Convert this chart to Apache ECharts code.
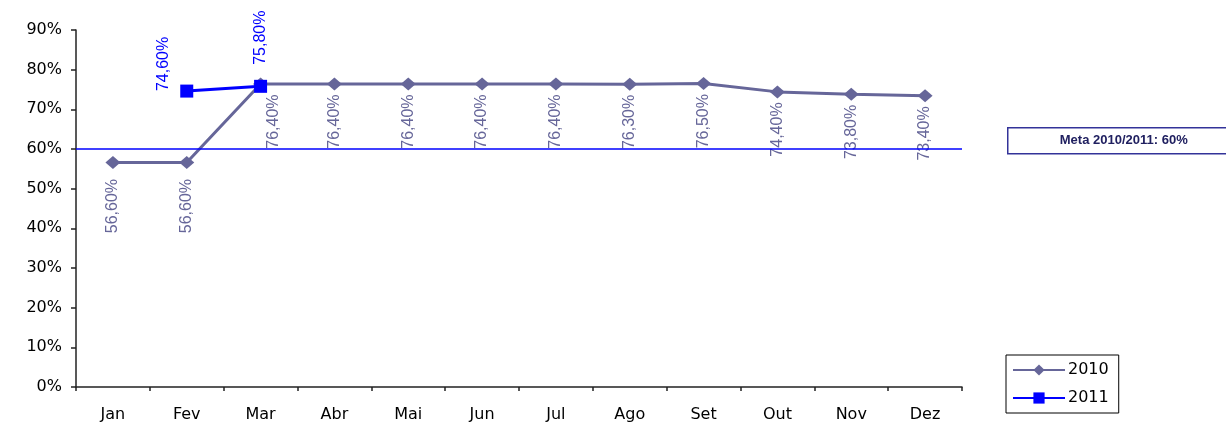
<!DOCTYPE html>
<html>
<head>
<meta charset="utf-8">
<script src="https://cdn.jsdelivr.net/npm/echarts@6/dist/echarts.min.js"></script>
<style>
  html, body { margin: 0; padding: 0; background: #fff; }
  #chart { width: 1226px; height: 424px; }
</style>
</head>
<body>
<div id="chart"></div>
<script>
  var months = ["Jan", "Fev", "Mar", "Abr", "Mai", "Jun", "Jul", "Ago", "Set", "Out", "Nov", "Dez"];
  var values2010 = [56.6, 56.6, 76.4, 76.4, 76.4, 76.4, 76.4, 76.3, 76.5, 74.4, 73.8, 73.4];
  var values2011 = [null, 74.6, 75.8];
  var meta = 60;
  var yTicks = [0, 10, 20, 30, 40, 50, 60, 70, 80, 90];

  function pct(v) {
    return v.toFixed(2).replace(".", ",") + "%";
  }

  var font = "Liberation Sans, Arial, sans-serif";
  var axisFont = "DejaVu Sans, Verdana, sans-serif";

  var chart = echarts.init(document.getElementById("chart"));

  // 2010: labels below the points (Jan/Fev a bit lower, Mar pushed right)
  var data2010 = values2010.map(function (v, i) {
    var item = { value: v };
    if (i < 2) item.label = { distance: 10 };
    if (i === 2) item.label = { offset: [0, 13] };
    return item;
  });

  // 2011: Fev label sits left of its point
  var data2011 = values2011.map(function (v, i) {
    if (v === null) return null;
    var item = { value: v };
    if (i === 1) item.label = { position: "left", distance: 17, align: "left" };
    return item;
  });

  chart.setOption({
    animation: false,
    grid: { left: 76, right: 264, top: 30, bottom: 37 },
    xAxis: {
      type: "category",
      data: months,
      boundaryGap: true,
      axisLine: { lineStyle: { color: "#222", width: 1.5 } },
      axisTick: { show: true, length: 4, lineStyle: { color: "#222", width: 1.5 } },
      axisLabel: { color: "#000", fontSize: 16, fontFamily: axisFont, margin: 20 },
      splitLine: { show: false }
    },
    yAxis: {
      type: "value",
      min: yTicks[0],
      max: yTicks[yTicks.length - 1],
      interval: 10,
      axisLine: { show: true, lineStyle: { color: "#222", width: 1.5 } },
      axisTick: { show: true, length: 5, lineStyle: { color: "#222", width: 1.5 } },
      axisLabel: {
        color: "#000", fontSize: 16, fontFamily: axisFont, margin: 14,
        formatter: function (v) { return v + "%"; }
      },
      splitLine: { show: false }
    },
    legend: {
      orient: "vertical",
      left: 1006,
      top: 355,
      padding: [7, 10, 7, 6],
      itemGap: 12,
      itemWidth: 52,
      itemHeight: 14,
      borderColor: "#000",
      borderWidth: 1,
      textStyle: { color: "#000", fontSize: 16, fontFamily: axisFont, padding: [0, 0, 0, -2] },
      data: ["2010", "2011"]
    },
    graphic: [{
      type: "group",
      left: 1007,
      top: 127,
      children: [{
        type: "rect",
        shape: { x: 0, y: 0, width: 230, height: 26 },
        style: { fill: "#fff", stroke: "#333399", lineWidth: 1.5 }
      }, {
        type: "text",
        x: 116,
        y: 13,
        style: {
          text: "Meta 2010/2011: 60%",
          fill: "#202060",
          font: "bold 13px " + font,
          textAlign: "center",
          textVerticalAlign: "middle"
        }
      }]
    }],
    series: [{
      name: "2010",
      type: "line",
      data: data2010,
      symbol: "diamond",
      symbolSize: [15, 13],
      lineStyle: { color: "#666699", width: 3 },
      itemStyle: { color: "#666699" },
      label: {
        show: true,
        position: "bottom",
        distance: 4,
        rotate: 90,
        align: "right",
        verticalAlign: "middle",
        color: "#666699",
        fontSize: 16,
        fontFamily: font,
        formatter: function (p) { return pct(p.value); }
      },
      z: 2
    }, {
      name: "2011",
      type: "line",
      data: data2011,
      symbol: "rect",
      symbolSize: 13,
      lineStyle: { color: "#0000FF", width: 3 },
      itemStyle: { color: "#0000FF" },
      label: {
        show: true,
        position: "top",
        distance: 15,
        rotate: 90,
        align: "left",
        verticalAlign: "middle",
        color: "#0000FF",
        fontSize: 16,
        fontFamily: font,
        formatter: function (p) { return pct(p.value); }
      },
      // meta line at 60%
      markLine: {
        silent: true,
        symbol: "none",
        label: { show: false },
        emphasis: { disabled: true },
        lineStyle: { color: "#0000FF", width: 1.5, type: "solid", opacity: 1 },
        data: [{ yAxis: meta }]
      },
      z: 3
    }]
  });
</script>
</body>
</html>
